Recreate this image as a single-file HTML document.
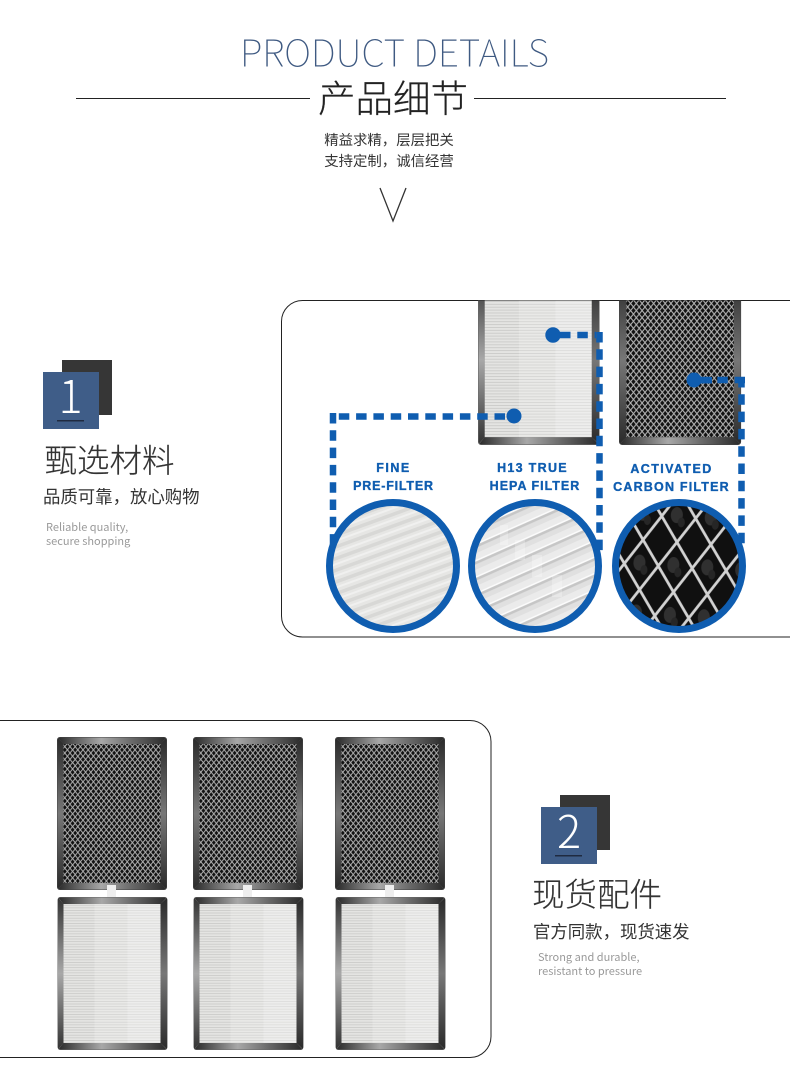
<!DOCTYPE html>
<html lang="zh"><head><meta charset="utf-8"><title>Product Details</title>
<style>
html,body{margin:0;padding:0;background:#fff}
body{width:790px;height:1092px;overflow:hidden}
svg{display:block}
.cjk{font-family:"Liberation Sans","Noto Sans CJK SC",sans-serif}
.lab{font-family:"Liberation Sans",sans-serif;font-weight:700;font-size:12.5px;fill:#0f5db0;stroke:#0f5db0;stroke-width:.35;text-anchor:middle}
</style></head><body>
<svg width="790" height="1092" viewBox="0 0 790 1092" xmlns="http://www.w3.org/2000/svg">
<defs>
<pattern id="mesh" width="5.2" height="6.4" patternUnits="userSpaceOnUse">
<rect width="5.2" height="6.4" fill="#121212"/>
<path d="M0 0L5.2 6.4M5.2 0L0 6.4" stroke="#b4b4b4" stroke-width="1"/>
</pattern>
<pattern id="pleat" width="4" height="2.6" patternUnits="userSpaceOnUse">
<rect width="4" height="2.6" fill="#e4e4e2"/>
<rect width="4" height=".8" fill="#cacac8"/>
</pattern>
<linearGradient id="gh" x1="0" x2="1" y1="0" y2="0"><stop offset="0" stop-color="#2a2a2a"/><stop offset=".4" stop-color="#a8a8a8"/><stop offset=".7" stop-color="#666"/><stop offset="1" stop-color="#2a2a2a"/></linearGradient>
<linearGradient id="gv" x1="0" x2="0" y1="0" y2="1"><stop offset="0" stop-color="#333"/><stop offset=".5" stop-color="#a8a8a8"/><stop offset="1" stop-color="#333"/></linearGradient>
<linearGradient id="gvd" x1="0" x2="0" y1="0" y2="1"><stop offset="0" stop-color="#2a2a2a"/><stop offset=".5" stop-color="#777"/><stop offset="1" stop-color="#2a2a2a"/></linearGradient>
<g id="carbon">
<rect x="0" y="0" width="110" height="153" rx="3" fill="#444"/>
<rect x="6.5" y="7" width="97" height="139" fill="url(#mesh)"/>
<path d="M1 .5H109L103.5 7H6.5Z" fill="url(#gh)"/>
<path d="M1 152.5H109L103.5 146H6.5Z" fill="url(#gh)"/>
<path d="M.5 1V152L6.5 146V7Z" fill="url(#gvd)"/>
<path d="M109.5 1V152L103.5 146V7Z" fill="url(#gvd)"/>
</g>
<g id="hepa">
<rect x="0" y="0" width="110" height="153" rx="3" fill="#666"/>
<rect x="6" y="7" width="97" height="139" fill="url(#pleat)"/>
<rect x="37" y="7" width="33" height="139" fill="#fff" opacity=".2"/>
<rect x="70" y="7" width="33" height="139" fill="#fff" opacity=".35"/>
<path d="M1 .5H109L103 7H6Z" fill="url(#gh)"/>
<path d="M1 152.5H109L103 146H6Z" fill="url(#gh)"/>
<path d="M.5 1V152L6 146V7Z" fill="url(#gv)"/>
<path d="M109.5 1V152L103 146V7Z" fill="url(#gvd)"/>
</g>
<clipPath id="c1"><rect x="282" y="300.5" width="508" height="336"/></clipPath>
<clipPath id="cc2"><circle cx="535" cy="566" r="61"/></clipPath>
<pattern id="st1" width="200" height="11" patternUnits="userSpaceOnUse" patternTransform="rotate(-20)">
<rect width="200" height="11" fill="#e6e6e4"/><rect y="0" width="200" height="3.5" fill="#d8d8d6"/><rect y="6" width="200" height="2" fill="#f0f0ef"/>
</pattern>
<pattern id="st2" width="200" height="15" patternUnits="userSpaceOnUse" patternTransform="rotate(-24)">
<rect width="200" height="15" fill="#e0e0e0"/><rect y="0" width="200" height="1.6" fill="#fbfbfb"/><rect y="1.6" width="200" height="2.5" fill="#c6c6c6"/><rect y="9" width="200" height="6" fill="#ebebeb"/>
</pattern>
<pattern id="dia" width="34" height="50" patternUnits="userSpaceOnUse" patternTransform="translate(660 541) rotate(4)">
<rect width="34" height="50" fill="#101010"/>
<ellipse cx="15" cy="23" rx="6" ry="8" fill="#303030"/><ellipse cx="20" cy="30" rx="3.5" ry="5" fill="#262626"/>
<path d="M0 25L17 0L34 25L17 50Z" fill="none" stroke="#d2d2d2" stroke-width="2.8"/>
</pattern>
</defs>

<text x="394.5" y="66.5" text-anchor="middle" textLength="309" lengthAdjust="spacingAndGlyphs" font-family="'Noto Sans CJK SC','Liberation Sans',sans-serif" font-weight="100" font-size="37" fill="#3f5a82">PRODUCT DETAILS</text>
<rect x="76" y="98" width="234" height="1" fill="#222"/>
<rect x="474" y="98" width="252" height="1" fill="#222"/>
<text x="393" y="112" text-anchor="middle" class="cjk" font-size="37.5" font-weight="300" fill="#222" stroke="#222" stroke-width=".2">产品细节</text>
<text x="389" y="145" text-anchor="middle" class="cjk" font-size="14.4" fill="#333">精益求精，层层把关</text>
<text x="389" y="166" text-anchor="middle" class="cjk" font-size="14.4" fill="#333">支持定制，诚信经营</text>
<path d="M380 188L393 221L406 188" fill="none" stroke="#333" stroke-width="1.3"/>

<!-- section 1 -->
<rect x="281.5" y="300.5" width="540" height="336.5" rx="21" fill="#fff" stroke="#222" stroke-width="1"/>
<g clip-path="url(#c1)">
<use href="#hepa" transform="translate(478 275) scale(1.105 1.111)"/>
<use href="#carbon" transform="translate(619 275) scale(1.11 1.111)"/>
</g>
<rect x="62" y="360" width="50" height="55" fill="#363636"/>
<rect x="43" y="372" width="56" height="57" fill="#3f5d88"/>
<text x="70.5" y="413" text-anchor="middle" font-family="'Noto Sans CJK SC','Liberation Sans',sans-serif" font-weight="300" font-size="45" fill="#fff">1</text>
<rect x="57" y="420" width="27" height="1.5" fill="#1f2a40"/>
<text x="44.5" y="472" class="cjk" font-size="32.5" font-weight="300" fill="#333" stroke="#333" stroke-width=".15">甄选材料</text>
<text x="43" y="503" class="cjk" font-size="17.4" fill="#333">品质可靠，放心购物</text>
<text x="46" y="531" font-family="'Noto Sans CJK SC','Liberation Sans',sans-serif" font-size="11" fill="#999">Reliable quality,</text>
<text x="46" y="545" font-family="'Noto Sans CJK SC','Liberation Sans',sans-serif" font-size="11" fill="#999">secure shopping</text>

<g fill="none" stroke="#0f5db0" stroke-width="6.5" stroke-dasharray="10.5 6.8">
<path d="M505 416.5H330"/>
<path d="M333 413V545"/>
<path d="M560 335H596"/>
<path d="M599.5 332V552"/>
<path d="M700 380H745"/>
<path d="M741.5 377V545"/>
</g>
<g fill="#0f5db0">
<circle cx="514" cy="416" r="7.5"/><circle cx="553" cy="335" r="7.7"/><circle cx="694" cy="380" r="7.5"/>
<rect x="700" y="377" width="12" height="6.5"/>
</g>

<text class="lab" x="393.5" y="472" letter-spacing="1.5">FINE</text>
<text class="lab" x="393.5" y="490" letter-spacing=".8">PRE-FILTER</text>
<text class="lab" x="532.5" y="472" letter-spacing="1.3">H13 TRUE</text>
<text class="lab" x="535" y="490" letter-spacing="1">HEPA FILTER</text>
<text class="lab" x="671.5" y="473" letter-spacing="1.4">ACTIVATED</text>
<text class="lab" x="671.5" y="491" letter-spacing="1.2">CARBON FILTER</text>

<circle cx="393" cy="566" r="63.5" fill="url(#st1)" stroke="#0f5db0" stroke-width="7"/>
<circle cx="535" cy="566" r="63.5" fill="url(#st2)" stroke="#0f5db0" stroke-width="7"/>
<g clip-path="url(#cc2)" fill="#fff" opacity=".25">
<rect x="500" y="525" width="8" height="20"/><rect x="515" y="540" width="10" height="20"/><rect x="532" y="555" width="10" height="22"/><rect x="552" y="575" width="10" height="22"/>
</g>
<circle cx="679" cy="566" r="63.5" fill="url(#dia)" stroke="#0f5db0" stroke-width="7"/>

<!-- section 2 -->
<rect x="-40" y="720.5" width="531" height="337" rx="21" fill="#fff" stroke="#222" stroke-width="1"/>
<use href="#carbon" x="57" y="737"/><use href="#carbon" x="193" y="737"/><use href="#carbon" x="335" y="737"/>
<use href="#hepa" x="57.5" y="897"/><use href="#hepa" x="193.5" y="897"/><use href="#hepa" x="335.5" y="897"/>
<g fill="#eee"><rect x="107" y="885" width="9" height="12"/><rect x="243" y="885" width="9" height="12"/><rect x="385" y="885" width="9" height="12"/></g>

<rect x="560" y="795" width="50" height="55" fill="#363636"/>
<rect x="541" y="807" width="56" height="57" fill="#3f5d88"/>
<text x="569" y="848" text-anchor="middle" font-family="'Noto Sans CJK SC','Liberation Sans',sans-serif" font-weight="300" font-size="45" fill="#fff">2</text>
<rect x="555" y="855" width="27" height="1.5" fill="#1f2a40"/>
<text x="532" y="906" class="cjk" font-size="32.5" font-weight="300" fill="#333" stroke="#333" stroke-width=".15">现货配件</text>
<text x="533" y="938" class="cjk" font-size="17.4" fill="#333">官方同款，现货速发</text>
<text x="538" y="961" font-family="'Noto Sans CJK SC','Liberation Sans',sans-serif" font-size="11" fill="#999">Strong and durable,</text>
<text x="538" y="975" font-family="'Noto Sans CJK SC','Liberation Sans',sans-serif" font-size="11" fill="#999">resistant to pressure</text>
</svg>
</body></html>
